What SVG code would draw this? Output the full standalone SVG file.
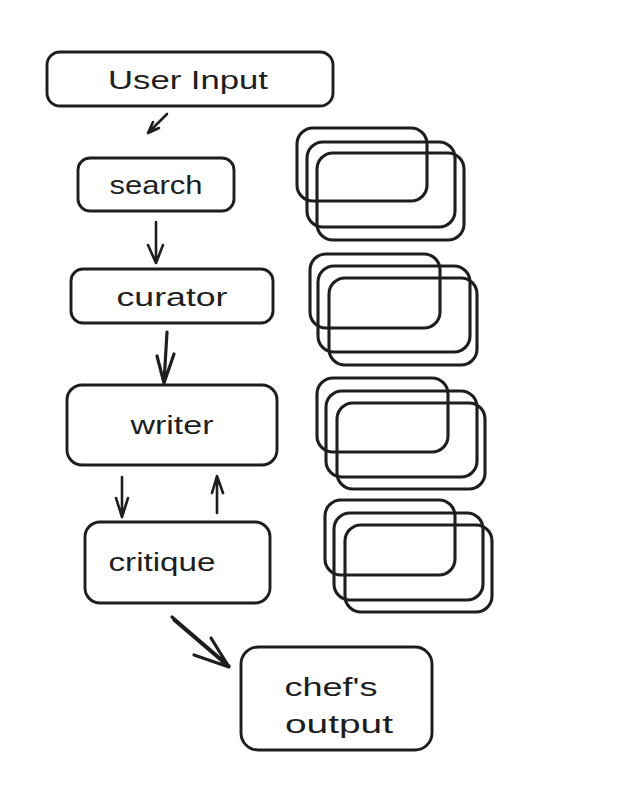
<svg xmlns="http://www.w3.org/2000/svg" width="620" height="788" viewBox="0 0 620 788">
<style>
.box{fill:none;stroke:#1e1e1e;stroke-width:2.9;stroke-linejoin:round}
.stk{fill:none;stroke:#1e1e1e;stroke-width:3.1;stroke-linejoin:round}
.lbl{font-family:"Liberation Sans",Arial,sans-serif;font-size:26px;fill:#1e1e1e;text-anchor:middle;dominant-baseline:central}
.arr{fill:none;stroke:#1e1e1e;stroke-width:2.6;stroke-linecap:round;stroke-linejoin:round}
</style>
<rect width="620" height="788" fill="#ffffff"/>
<g id="user-input"><rect class="box" x="47" y="52" width="286" height="54" rx="13"/><text class="lbl" x="188" y="80" textLength="160" lengthAdjust="spacingAndGlyphs">User Input</text></g>
<g id="search"><rect class="box" x="78" y="158" width="156" height="53" rx="12"/><text class="lbl" x="156" y="185" textLength="93" lengthAdjust="spacingAndGlyphs">search</text></g>
<g id="curator"><rect class="box" x="71" y="269" width="202" height="54" rx="12"/><text class="lbl" x="172" y="297" textLength="111" lengthAdjust="spacingAndGlyphs">curator</text></g>
<g id="writer"><rect class="box" x="67" y="385" width="210" height="80" rx="15"/><text class="lbl" x="172" y="425" textLength="83" lengthAdjust="spacingAndGlyphs">writer</text></g>
<g id="critique"><rect class="box" x="85" y="522" width="185" height="81" rx="15"/><text class="lbl" x="162" y="562" textLength="107" lengthAdjust="spacingAndGlyphs">critique</text></g>
<g id="chefs-output"><rect class="box" x="241" y="647" width="191" height="103" rx="17"/><text class="lbl" x="331" y="687" textLength="93" lengthAdjust="spacingAndGlyphs">chef's</text><text class="lbl" x="339" y="724" textLength="108" lengthAdjust="spacingAndGlyphs">output</text></g>
<g id="stack-1"><rect class="stk" x="297" y="128" width="130" height="73" rx="16"/><rect class="stk" x="307" y="142" width="148" height="85" rx="16"/><rect class="stk" x="317" y="153" width="147" height="87" rx="16"/></g>
<g id="stack-2"><rect class="stk" x="310" y="254" width="130" height="74" rx="16"/><rect class="stk" x="318" y="266" width="152" height="86" rx="16"/><rect class="stk" x="329" y="278" width="148" height="87" rx="16"/></g>
<g id="stack-3"><rect class="stk" x="317" y="378" width="131" height="74" rx="16"/><rect class="stk" x="326" y="391" width="151" height="86" rx="16"/><rect class="stk" x="337" y="403" width="148" height="86" rx="16"/></g>
<g id="stack-4"><rect class="stk" x="325" y="500" width="130" height="75" rx="16"/><rect class="stk" x="334" y="513" width="149" height="87" rx="16"/><rect class="stk" x="345" y="525" width="147" height="87" rx="16"/></g>
<g id="connectors">
<path class="arr" d="M167 114 L148 133 M148 133 L153 122 M148 133 L159 128"/>
<path class="arr" d="M156 222 L156 263 M156 263 L148 245 M156 263 L163 245"/>
<path class="arr" style="stroke-width:3.2" d="M167 332 L164 383 M164 383 L157 356 M164 383 L174 354"/>
<path class="arr" d="M122 477 L122 517 M122 517 L116 498 M122 517 L128 498"/>
<path class="arr" d="M217 513 L217 476 M217 476 L212 493 M217 476 L223 493"/>
<path class="arr" style="stroke-width:3.2" d="M172 617 L229 666 M174 620 L229 667 M229 667 L194 655 M229 667 L211 638"/>
</g>
</svg>
